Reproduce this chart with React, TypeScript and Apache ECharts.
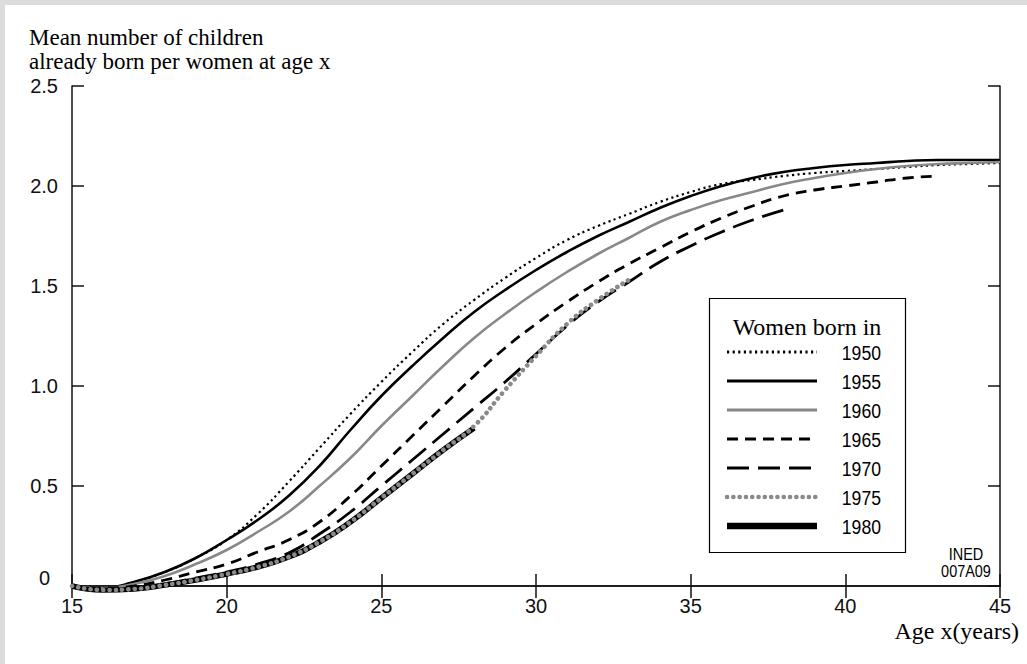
import React, { useEffect, useRef } from "react";
import * as echarts from "echarts";

// Ages (x axis, years)
const ages = [15, 16, 17, 18, 19, 20, 21, 22, 23, 24, 25, 26, 27, 28, 29, 30, 31, 32, 33, 34, 35, 36, 37, 38, 39, 40, 41, 42, 43, 44, 45];

// Mean number of children already born per woman, by cohort
const c1950 = [0, -0.01, 0.02, 0.07, 0.14, 0.23, 0.36, 0.52, 0.69, 0.86, 1.02, 1.17, 1.31, 1.43, 1.54, 1.64, 1.73, 1.8, 1.86, 1.92, 1.97, 2.01, 2.03, 2.05, 2.065, 2.075, 2.085, 2.095, 2.105, 2.11, 2.115];
const c1955 = [0, -0.01, 0.02, 0.07, 0.14, 0.23, 0.33, 0.45, 0.6, 0.78, 0.95, 1.1, 1.24, 1.37, 1.48, 1.58, 1.67, 1.75, 1.82, 1.89, 1.95, 2.0, 2.04, 2.07, 2.09, 2.105, 2.115, 2.125, 2.13, 2.13, 2.13];
const c1960 = [0, -0.01, 0.01, 0.05, 0.11, 0.18, 0.27, 0.37, 0.5, 0.64, 0.8, 0.95, 1.1, 1.24, 1.36, 1.47, 1.57, 1.66, 1.74, 1.82, 1.88, 1.93, 1.97, 2.01, 2.04, 2.065, 2.085, 2.1, 2.11, 2.115, 2.12];
const c1965 = [0, -0.01, 0.0, 0.03, 0.07, 0.11, 0.17, 0.23, 0.32, 0.45, 0.6, 0.75, 0.9, 1.05, 1.19, 1.31, 1.42, 1.52, 1.61, 1.69, 1.77, 1.84, 1.9, 1.95, 1.98, 2.0, 2.02, 2.04, 2.05];
const c1970 = [0, -0.015, -0.01, 0.01, 0.04, 0.07, 0.11, 0.165, 0.26, 0.37, 0.5, 0.63, 0.76, 0.89, 1.02, 1.16, 1.3, 1.42, 1.52, 1.62, 1.7, 1.77, 1.83, 1.88];
const c1975 = [0, -0.02, -0.015, 0.005, 0.03, 0.06, 0.095, 0.145, 0.22, 0.32, 0.44, 0.56, 0.68, 0.8, 0.98, 1.15, 1.31, 1.43, 1.53];
const c1980 = [0, -0.02, -0.015, 0.005, 0.03, 0.06, 0.095, 0.145, 0.22, 0.32, 0.44, 0.56, 0.68, 0.79];

const cohorts = ["1950", "1955", "1960", "1965", "1970", "1975", "1980"];
const yTicks = [0, 0.5, 1.0, 1.5, 2.0, 2.5];

const titleText = "Mean number of children\nalready born per women at age x";
const xName = "Age x(years)";
const legendTitle = "Women born in";
const sourceText = "INED\n007A09";

const SANS = '"Liberation Sans", Arial, Helvetica, sans-serif';
const SERIF = '"Liberation Serif", "Times New Roman", serif';

const styles: Record<string, any> = {
  "1950": { color: "#000", width: 2.2, type: [2.2, 3.4], cap: "butt" },
  "1955": { color: "#000", width: 2.6, type: "solid", cap: "butt" },
  "1960": { color: "#888", width: 2.6, type: "solid", cap: "butt" },
  "1965": { color: "#000", width: 2.8, type: [11, 7], cap: "butt" },
  "1970": { color: "#000", width: 2.8, type: [22, 9], cap: "butt" },
  "1975": { color: "#8a8a8a", width: 4.6, type: [0.1, 6.2], cap: "round" },
  "1980": { color: "#000", width: 5.5, type: "solid", cap: "butt" },
};

const dataMap: Record<string, number[]> = {
  "1950": c1950,
  "1955": c1955,
  "1960": c1960,
  "1965": c1965,
  "1970": c1970,
  "1975": c1975,
  "1980": c1980,
};

const drawOrder = ["1980", "1950", "1955", "1960", "1965", "1970", "1975"];

export default function App() {
  const ref = useRef<HTMLDivElement>(null);

  useEffect(() => {
    if (!ref.current) return;
    const chart = echarts.init(ref.current, null, { renderer: "svg" });

    const series = drawOrder.map((k) => {
      const vals = dataMap[k];
      const s = styles[k];
      return {
        name: k,
        type: "line",
        xAxisIndex: 0,
        yAxisIndex: 0,
        data: vals.map((v, i) => [ages[i], v]),
        showSymbol: false,
        symbol: "none",
        smooth: 0.5,
        clip: false,
        lineStyle: { color: s.color, width: s.width, type: s.type, cap: s.cap },
        z: 3,
      };
    });

    // Legend box drawn as graphic
    const legX1 = 727;
    const legX2 = 817;
    const rowY0 = 352;
    const rowStep = 29;
    const legendEls: any[] = [
      {
        type: "rect",
        shape: { x: 709.5, y: 298.5, width: 196, height: 254 },
        style: { fill: "#fff", stroke: "#000", lineWidth: 1.2 },
        z: 10,
      },
      {
        type: "text",
        x: 807,
        y: 327,
        style: { text: legendTitle, font: `24px ${SERIF}`, fill: "#000", align: "center", verticalAlign: "middle" },
        z: 11,
      },
    ];
    cohorts.forEach((k, i) => {
      const s = styles[k];
      const y = rowY0 + i * rowStep;
      legendEls.push({
        type: "line",
        shape: { x1: legX1, y1: y, x2: legX2, y2: y },
        style: {
          stroke: s.color,
          lineWidth: k === "1980" ? 6.5 : k === "1975" ? 4.6 : 3,
          lineDash: Array.isArray(s.type) ? s.type : null,
          lineCap: s.cap,
        },
        z: 11,
      });
      legendEls.push({
        type: "text",
        x: 881,
        y: y,
        scaleX: 0.84,
        style: { text: k, font: `21px ${SANS}`, fill: "#000", align: "right", verticalAlign: "middle" },
        z: 11,
      });
    });

    const axisCommon = {
      axisLine: { show: true, lineStyle: { color: "#111", width: 1.5 } },
      axisTick: { show: true, inside: true, length: 12, lineStyle: { color: "#111", width: 1.5 } },
      splitLine: { show: false },
    };

    const option: any = {
      animation: false,
      backgroundColor: "transparent",
      grid: { left: 72, right: 27, top: 86, bottom: 78, outerBoundsMode: "none", containLabel: false },
      xAxis: [
        {
          type: "value",
          min: 15,
          max: 45,
          interval: 5,
          position: "bottom",
          ...axisCommon,
          axisLabel: { show: true, margin: 10, fontSize: 20, fontFamily: SANS, color: "#111" },
        },
        {
          type: "value",
          min: 15,
          max: 45,
          interval: 5,
          position: "top",
          ...axisCommon,
          axisLabel: { show: false },
        },
      ],
      yAxis: [
        {
          type: "value",
          min: 0,
          max: 2.5,
          interval: 0.5,
          position: "left",
          ...axisCommon,
          axisLabel: {
            show: true,
            margin: 14,
            fontSize: 20,
            fontFamily: SANS,
            color: "#111",
            formatter: (v: number) => (yTicks.includes(v) ? (v === 0 ? "{z|0}" : v.toFixed(1)) : ""),
            rich: {
              z: { fontSize: 20, fontFamily: SANS, color: "#111", padding: [0, 8, 16, 0] },
            },
          },
        },
        {
          type: "value",
          min: 0,
          max: 2.5,
          interval: 0.5,
          position: "right",
          ...axisCommon,
          axisLabel: { show: false },
        },
      ],
      series,
      graphic: [
        {
          type: "text",
          x: 29,
          y: 25,
          style: { text: titleText, font: `23px ${SERIF}`, lineHeight: 24, fill: "#000", verticalAlign: "top" },
        },
        {
          type: "text",
          x: 1019,
          y: 631,
          style: { text: xName, font: `24px ${SERIF}`, fill: "#000", align: "right", verticalAlign: "middle" },
        },
        {
          type: "text",
          x: 966,
          y: 546,
          scaleX: 0.85,
          style: { text: sourceText, font: `17px ${SANS}`, lineHeight: 17, fill: "#000", align: "center", verticalAlign: "top" },
        },
        ...legendEls,
      ],
    };

    chart.setOption(option);
    return () => chart.dispose();
  }, []);

  return (
    <div style={{ position: "absolute", left: 0, top: 0, width: 1027, height: 664, background: "#fff", overflow: "hidden" }}>
      <div style={{ position: "absolute", left: 0, top: 0, width: 5, height: 664, background: "#dcdcdc" }} />
      <div style={{ position: "absolute", left: 0, top: 0, width: 1027, height: 5, background: "#dcdcdc" }} />
      <div ref={ref} style={{ position: "absolute", left: 0, top: 0, width: 1027, height: 664 }} />
    </div>
  );
}
